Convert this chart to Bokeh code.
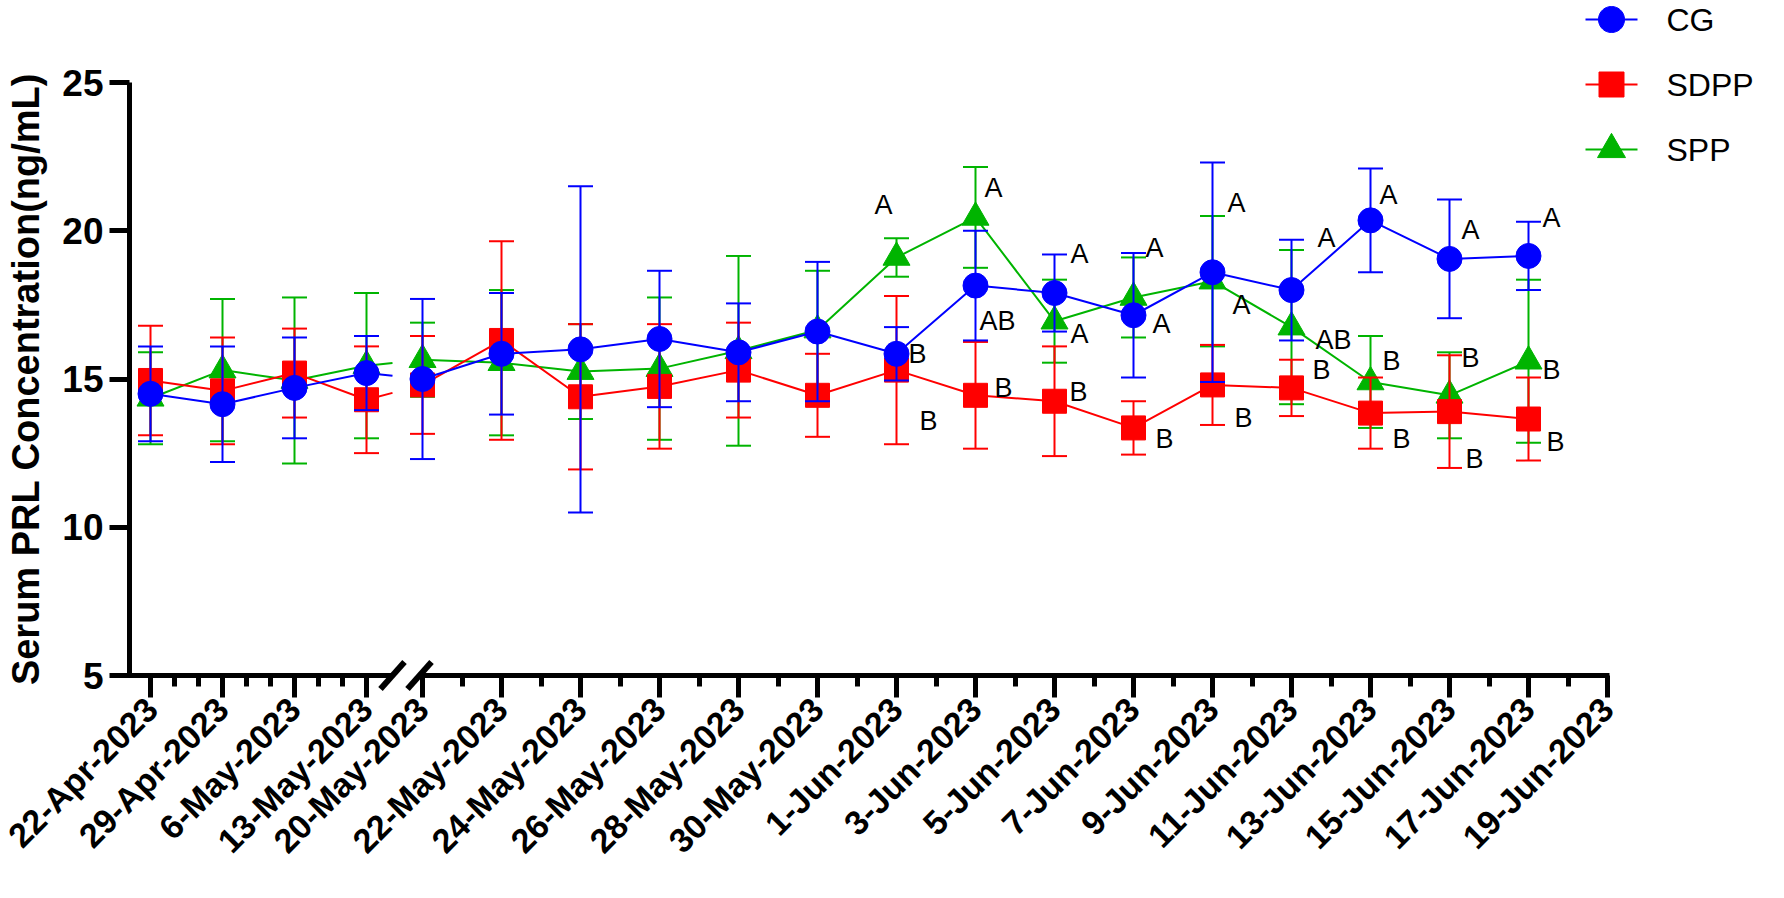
import math
from bokeh.plotting import figure
from bokeh.models import Range1d, FixedTicker
from bokeh.core.properties import value
from bokeh.embed import file_html
from bokeh.resources import INLINE

# ---------------- data ----------------
left_dates = ["22-Apr-2023", "29-Apr-2023", "6-May-2023", "13-May-2023"]
right_dates = ["20-May-2023", "22-May-2023", "24-May-2023", "26-May-2023", "28-May-2023",
               "30-May-2023", "1-Jun-2023", "3-Jun-2023", "5-Jun-2023", "7-Jun-2023",
               "9-Jun-2023", "11-Jun-2023", "13-Jun-2023", "15-Jun-2023", "17-Jun-2023",
               "19-Jun-2023"]
data_dates = left_dates + right_dates[:-1]
y_ticks = [5, 10, 15, 20, 25]
series_names = ["CG", "SDPP", "SPP"]

cg_mean = [14.5, 14.15, 14.7, 15.2, 15.0, 15.85, 16.0, 16.35, 15.9, 16.6, 15.85, 18.15,
           17.9, 17.15, 18.6, 18.0, 20.35, 19.05, 19.15]
cg_sd = [1.6, 1.95, 1.7, 1.25, 2.7, 2.05, 5.5, 2.3, 1.65, 2.35, 0.9, 1.85,
         1.3, 2.1, 3.7, 1.7, 1.75, 2.0, 1.15]
sdpp_mean = [14.95, 14.6, 15.2, 14.3, 14.8, 16.3, 14.4, 14.75, 15.3, 14.45, 15.3, 14.45,
             14.25, 13.35, 14.8, 14.7, 13.85, 13.9, 13.65]
sdpp_sd = [1.85, 1.8, 1.5, 1.8, 1.65, 3.35, 2.45, 2.1, 1.6, 1.4, 2.5, 1.8,
           1.85, 0.9, 1.35, 0.95, 1.2, 1.9, 1.4]
spp_mean = [14.35, 15.3, 14.95, 15.45, 15.65, 15.55, 15.25, 15.35, 15.95, 16.65, 19.1, 20.45,
            16.95, 17.75, 18.3, 16.75, 14.9, 14.45, 15.6]
spp_sd = [1.55, 2.4, 2.8, 2.45, 1.25, 2.45, 1.6, 2.4, 3.2, 2.0, 0.65, 1.7,
          1.4, 1.35, 2.2, 2.6, 1.55, 1.45, 2.75]

# significance letters (date, letter, height in ng/mL, horizontal offset in px)
letter_dates = ["1-Jun-2023"] * 3 + ["3-Jun-2023"] * 3 + ["5-Jun-2023"] * 3 + \
               ["7-Jun-2023"] * 3 + ["9-Jun-2023"] * 3 + ["11-Jun-2023"] * 3 + \
               ["13-Jun-2023"] * 3 + ["15-Jun-2023"] * 3 + ["17-Jun-2023"] * 3
letter_text = ["A", "B", "B", "A", "AB", "B", "A", "A", "B",
               "A", "A", "B", "A", "A", "B", "A", "AB", "B",
               "A", "B", "B", "A", "B", "B", "A", "B", "B"]
letter_y = [20.88, 15.83, 13.6, 21.43, 16.97, 14.71, 19.2, 16.53, 14.55,
            19.43, 16.87, 12.96, 20.95, 17.48, 13.7, 19.74, 16.33, 15.29,
            21.22, 15.6, 12.96, 20.04, 15.7, 12.3, 20.44, 15.3, 12.86]
letter_dx = [-22, 12, 23, 9, 4, 19, 16, 16, 15,
             12, 19, 22, 15, 20, 22, 26, 24, 21,
             9, 12, 22, 12, 12, 16, 14, 14, 18]

# ---------------- layout constants ----------------
FONT = "Liberation Sans"
W, H = 1768, 882
BORDER_L, BORDER_R, BORDER_T, BORDER_B = 129, 159, 82, 207
PX_PER_UNIT = (H - BORDER_T - BORDER_B) / 20.0
L_STEP = 72      # px per week on the left (weekly) segment
R_START = 272    # position of first date of the right segment
R_STEP = 79      # px per 2-day label on the right segment
X_START = -21
X_END = X_START + (W - BORDER_L - BORDER_R)
BREAK_L, BREAK_R = 242, 269

COLORS = {"CG": "#0000FF", "SDPP": "#FF0000", "SPP": "#00B400"}
MARKERS = {"CG": ("circle", 25), "SDPP": ("square", 24), "SPP": ("triangle", 27)}


def xpos(d):
    if d in left_dates:
        return left_dates.index(d) * L_STEP
    return R_START + right_dates.index(d) * R_STEP


def px_to_x(px):   # canvas px -> data x
    return X_START + (px - BORDER_L)


def py_to_y(py):   # canvas px -> data y
    return 25 - (py - BORDER_T) / PX_PER_UNIT


p = figure(width=W, height=H,
           x_range=Range1d(X_START, X_END), y_range=Range1d(5, 25),
           output_backend="svg", toolbar_location=None,
           min_border_left=BORDER_L, min_border_right=BORDER_R,
           min_border_top=BORDER_T, min_border_bottom=BORDER_B)
p.grid.visible = False
p.outline_line_color = None
p.background_fill_color = "white"
p.border_fill_color = "white"

# ---------------- axes ----------------
major_x = [xpos(d) for d in left_dates + right_dates]
minor_x = [i * L_STEP + k * L_STEP / 3 for i in range(len(left_dates) - 1) for k in (1, 2)] + \
          [R_START + i * R_STEP + R_STEP / 2 for i in range(len(right_dates) - 1)]
xa = p.xaxis[0]
xa.ticker = FixedTicker(ticks=major_x, minor_ticks=minor_x)
xa.major_label_overrides = {xpos(d): d for d in left_dates + right_dates}
xa.axis_line_color = None
xa.major_tick_out = 22
xa.major_tick_in = 0
xa.minor_tick_out = 11
xa.minor_tick_in = 0
xa.major_tick_line_width = 5
xa.minor_tick_line_width = 5
xa.major_tick_line_color = "black"
xa.minor_tick_line_color = "black"
xa.major_label_orientation = math.pi / 4
xa.major_label_standoff = 6
xa.major_label_text_font = FONT
xa.major_label_text_font_size = "34px"
xa.major_label_text_font_style = "bold"
xa.major_label_text_color = "black"

ya = p.yaxis[0]
ya.ticker = FixedTicker(ticks=y_ticks, minor_ticks=[])
ya.axis_line_width = 5
ya.axis_line_color = "black"
ya.major_tick_out = 20
ya.major_tick_in = 0
ya.major_tick_line_width = 5
ya.major_tick_line_color = "black"
ya.minor_tick_out = 0
ya.major_label_standoff = 6
ya.major_label_text_font = FONT
ya.major_label_text_font_size = "37px"
ya.major_label_text_font_style = "bold"
ya.major_label_text_color = "black"
ya.axis_label = "Serum PRL Concentration(ng/mL)"
ya.axis_label_text_font = FONT
ya.axis_label_text_font_size = "38px"
ya.axis_label_text_font_style = "bold"
ya.axis_label_text_color = "black"
ya.axis_label_standoff = 12

# broken x axis line with break marks
AXIS_END = xpos(right_dates[-1]) + 2
p.segment(x0=[X_START - 3, BREAK_R], y0=[5, 5], x1=[BREAK_L, AXIS_END], y1=[5, 5],
          line_color="black", line_width=5, level="overlay")
p.segment(x0=[BREAK_L - 12, BREAK_R - 12], y0=[4.545, 4.545],
          x1=[BREAK_L + 12, BREAK_R + 12], y1=[5.455, 5.455],
          line_color="black", line_width=6, level="overlay")


# ---------------- series ----------------
def draw_series(mean, sd, color, marker, size):
    xs = [xpos(d) for d in data_dates]
    lo = [m - s for m, s in zip(mean, sd)]
    hi = [m + s for m, s in zip(mean, sd)]
    p.segment(x0=xs, y0=lo, x1=xs, y1=hi, line_color=color, line_width=2)
    p.scatter(xs + xs, hi + lo, marker="dash", size=25, line_color=color, line_width=2)
    n = len(left_dates)
    x13, x20 = xs[n - 1], xs[n]
    y13, y20 = mean[n - 1], mean[n]
    yb = y13 + (y20 - y13) * (BREAK_L - x13) / (x20 - x13)
    p.line(xs[:n] + [BREAK_L], mean[:n] + [yb], line_color=color, line_width=2)
    p.line(xs[n:], mean[n:], line_color=color, line_width=2)
    p.scatter(xs, mean, marker=marker, size=size, fill_color=color, line_color=color)


series_data = {"CG": (cg_mean, cg_sd), "SDPP": (sdpp_mean, sdpp_sd), "SPP": (spp_mean, spp_sd)}
for name in ["SPP", "SDPP", "CG"]:
    m, s = series_data[name]
    draw_series(m, s, COLORS[name], *MARKERS[name])

p.text(x=[xpos(d) for d in letter_dates], y=letter_y, text=letter_text, x_offset=letter_dx,
       text_font=value(FONT), text_font_size="27px", text_color="black",
       text_align="left", text_baseline="middle")

# ---------------- legend (top right, outside the axes) ----------------
LEG_MARK_X, LEG_HALF_LINE, LEG_TEXT_X = 1611, 26, 1666
LEG_ROWS = [19, 84, 149]
for name, row in zip(series_names, LEG_ROWS):
    yy = py_to_y(row)
    col = COLORS[name]
    p.line([px_to_x(LEG_MARK_X - LEG_HALF_LINE), px_to_x(LEG_MARK_X + LEG_HALF_LINE)], [yy, yy],
           line_color=col, line_width=2, level="overlay")
    mk, sz = MARKERS[name]
    if mk == "circle":
        # drawn as a filled polygon so that it is not culled outside the data frame
        r = (sz + 1) / 2.0
        angs = [2 * math.pi * k / 60 for k in range(60)]
        p.patch([px_to_x(LEG_MARK_X) + r * math.cos(a) for a in angs],
                [yy + r * math.sin(a) / PX_PER_UNIT for a in angs],
                fill_color=col, line_color=col, level="overlay")
    else:
        p.scatter([px_to_x(LEG_MARK_X)], [yy], marker=mk, size=sz + 1,
                  fill_color=col, line_color=col, level="overlay")
    p.text([px_to_x(LEG_TEXT_X)], [yy], text=[name], text_font=value(FONT),
           text_font_size="32px", text_color="black", text_align="left",
           text_baseline="middle", level="overlay")

open("out.html", "w").write(file_html(p, INLINE))
